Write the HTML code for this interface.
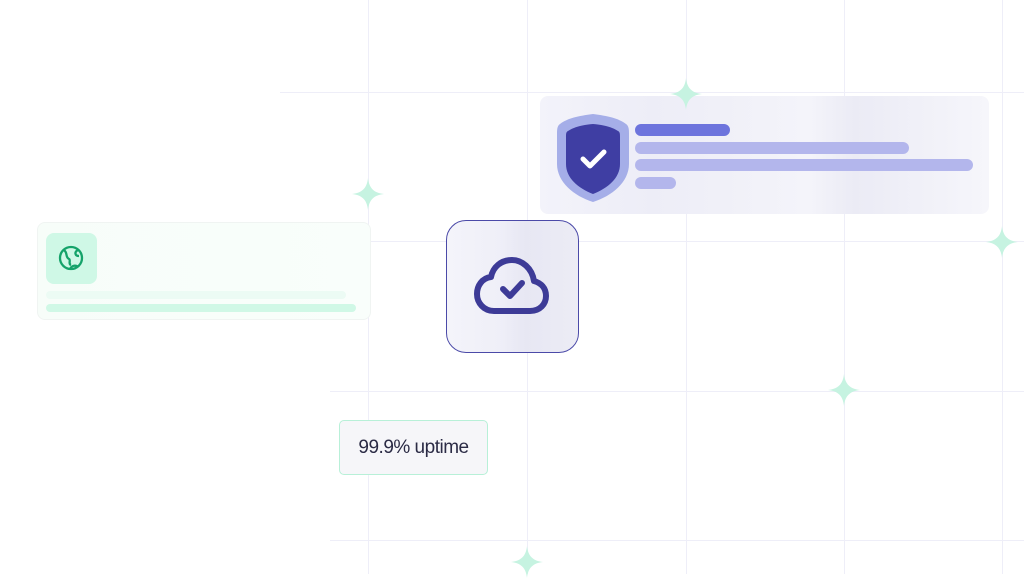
<!DOCTYPE html>
<html><head><style>
body{margin:0;width:1024px;height:574px;background:#fff;position:relative;overflow:hidden;font-family:"Liberation Sans",sans-serif}
.v{position:absolute;top:0;width:1px;height:574px;background:#eeeef8}
.h{position:absolute;left:280px;height:1px;width:744px;background:#eeeef8}
.abs{position:absolute}
.bar{position:absolute;border-radius:6px}
</style></head><body>
<div class="v" style="left:368px"></div>
<div class="v" style="left:527px"></div>
<div class="v" style="left:686px"></div>
<div class="v" style="left:844px"></div>
<div class="v" style="left:1002px"></div>
<div class="h" style="top:92px"></div>
<div class="h" style="top:241px;left:360px"></div>
<div class="h" style="top:391px;left:330px"></div>
<div class="h" style="top:540px;left:330px"></div>

<!-- shield card -->
<div class="abs" style="left:540px;top:96px;width:449px;height:118px;border-radius:8px;background:linear-gradient(90deg,#f3f3fa 0%,#ededf7 25%,#f0f0f8 40%,#f4f4fa 60%,#ebebf5 70%,#f6f6fb 100%)"></div>
<svg class="abs" style="left:556px;top:112px" width="74" height="92" viewBox="0 0 74 92">
<path d="M37 2 C52 4 62 6 70 12 C73 14 73 18 73 22 V52 C73 70 56 84 37 90 C18 84 1 70 1 52 V22 C1 18 1 14 4 12 C12 6 22 4 37 2Z" fill="#a5aee8"/>
<path d="M37 12 C48 13 56 15 62 19 C64 20 64 22 64 25 V52 C64 66 52 76 37 82 C22 76 10 66 10 52 V25 C10 22 10 20 12 19 C18 15 26 13 37 12Z" fill="#3f3ea3"/>
<path d="M27 47 L34 54 L48 40" stroke="#fff" stroke-width="5" fill="none" stroke-linecap="round" stroke-linejoin="round"/>
</svg>
<div class="bar" style="left:635px;top:124px;width:95px;height:12px;background:#6d74dd"></div>
<div class="bar" style="left:635px;top:142px;width:274px;height:12px;background:#b3b6ec"></div>
<div class="bar" style="left:635px;top:159px;width:338px;height:12px;background:#b3b6ec"></div>
<div class="bar" style="left:635px;top:177px;width:41px;height:12px;background:#b3b6ec"></div>

<!-- globe card -->
<div class="abs" style="left:37px;top:222px;width:332px;height:96px;border-radius:8px;background:linear-gradient(90deg,#f7fdf9,#f9fefb);border:1px solid #f0f4f2"></div>
<div class="abs" style="left:46px;top:233px;width:51px;height:51px;border-radius:8px;background:#cff8e6"></div>
<svg class="abs" style="left:56px;top:243px" width="30" height="30" viewBox="0 0 30 30" fill="none" stroke="#15a36a" stroke-width="2.3">
<circle cx="15" cy="15" r="11"/><path d="M8 7 C12 10 9 14 13 16 C15 17 12 21 15 22 M22 7 C18 9 19 13 23 13 M14 26 C16 22 20 22 22 24"/></svg>
<div class="bar" style="left:46px;top:291px;width:300px;height:8px;background:#ecfbf4"></div>
<div class="bar" style="left:46px;top:304px;width:310px;height:8px;background:#d0f8e6"></div>

<!-- cloud box -->
<div class="abs" style="left:446px;top:220px;width:131px;height:131px;border:1.5px solid #4b4aa8;border-radius:20px;background:linear-gradient(90deg,#f4f4fa 0%,#efeff8 40%,#e7e7f3 60%,#ececf5 100%)"></div>
<svg class="abs" style="left:472px;top:255px" width="80" height="65" viewBox="0 0 80 65" fill="none" stroke="#3d3b97" stroke-width="6" stroke-linecap="round" stroke-linejoin="round">
<path d="M22 56 H58 C68 56 74 49 74 41 C74 33 69 28 62 26 C60 13 50 5 40 5 C29 5 21 12 19 22 C10 23 5 31 5 39 C5 48 12 56 22 56Z"/>
<path d="M31 34 L38 41 L50 28"/></svg>

<!-- uptime -->
<div class="abs" style="left:339px;top:420px;width:147px;height:53px;border:1.5px solid #b8f0d8;border-radius:5px;background:#f6f6f9;font-size:19px;color:#2b2b45;line-height:53px;text-align:center;letter-spacing:-0.5px">99.9% uptime</div>

<!-- sparkles -->
<svg width="0" height="0" style="position:absolute"><defs><path id="sp" d="M16 0 C17 10 22 15 32 16 C22 17 17 22 16 32 C15 22 10 17 0 16 C10 15 15 10 16 0Z" fill="#c6f3e1"/></defs></svg>
<svg class="abs" style="left:670px;top:78px" width="32" height="32"><use href="#sp"/></svg>
<svg class="abs" style="left:352px;top:178px" width="32" height="32"><use href="#sp"/></svg>
<svg class="abs" style="left:986px;top:226px" width="32" height="32"><use href="#sp"/></svg>
<svg class="abs" style="left:828px;top:374px" width="32" height="32"><use href="#sp"/></svg>
<svg class="abs" style="left:511px;top:546px" width="32" height="32"><use href="#sp"/></svg>
</body></html>
